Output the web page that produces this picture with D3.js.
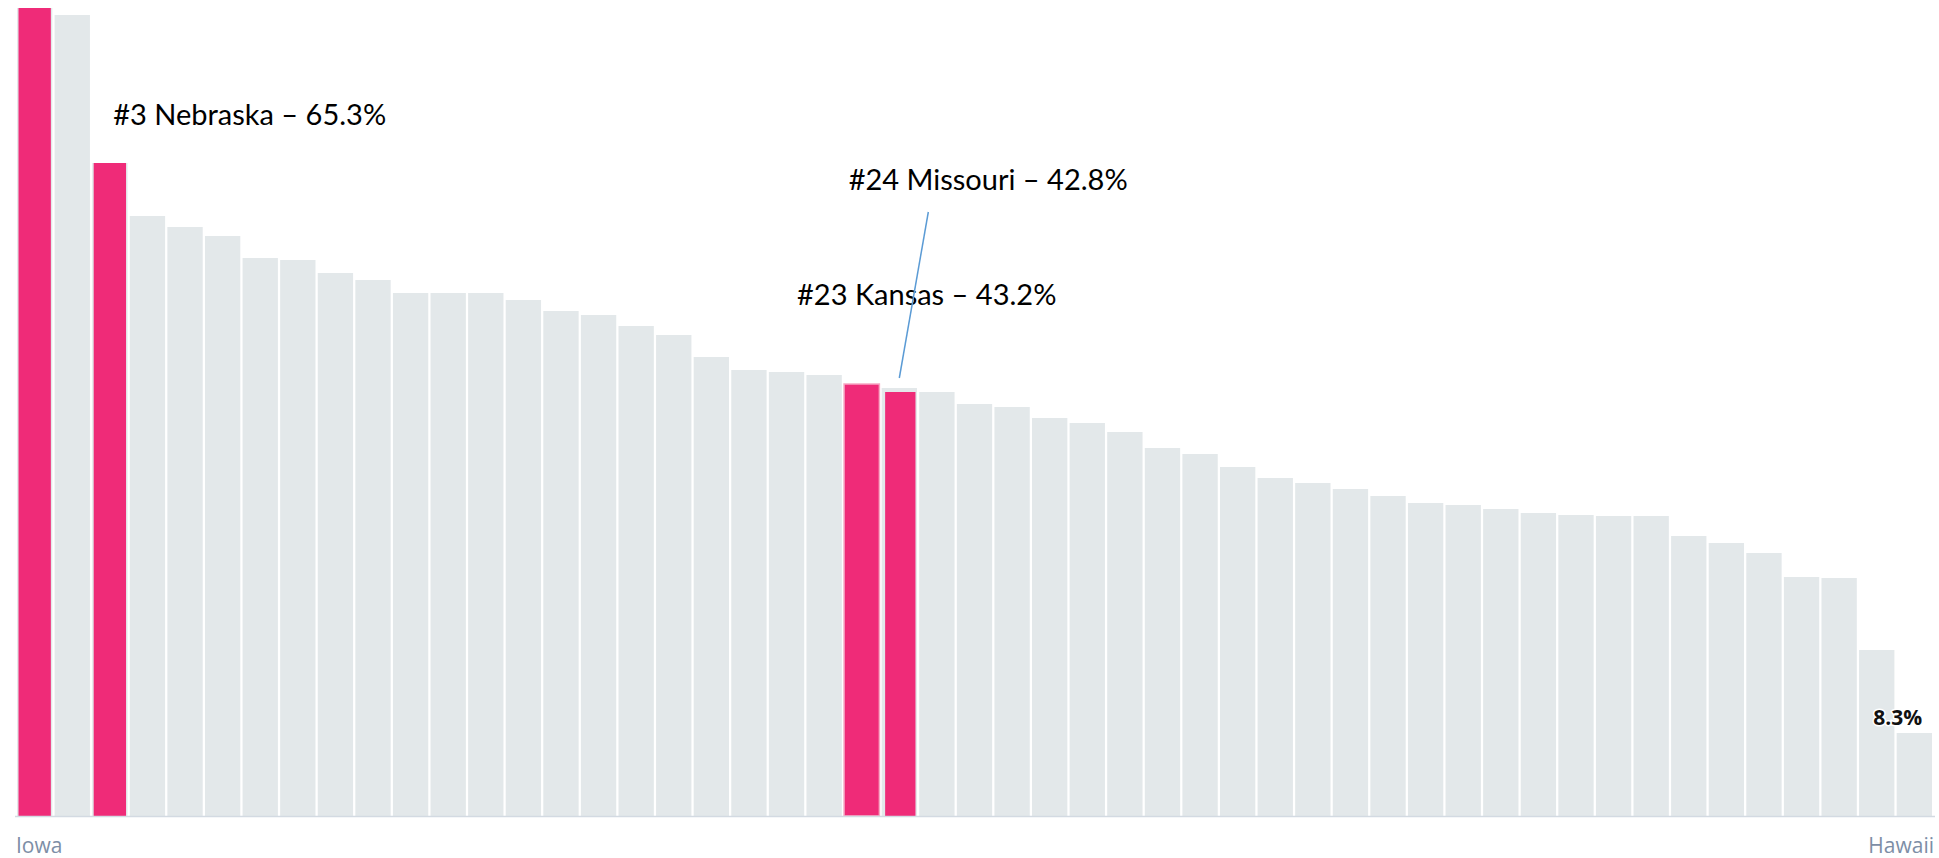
<!DOCTYPE html>
<html>
<head>
<meta charset="utf-8">
<script src="https://cdn.jsdelivr.net/npm/d3@7"></script>
<style>
    html, body {
        margin: 0;
        padding: 0;
        background: #fff;
    }
</style>
</head>
<body>
<script>
// rank of every state, 1 = highest share
var ranks = d3.range(1, 52);

// share (%) for each rank
var shares = [
    80.8, 80.1, 65.3, 60.0, 58.9, 58.0, 55.8, 55.6, 54.3, 53.6,
    52.3, 52.3, 52.3, 51.6, 50.5, 50.1, 49.0, 48.1, 45.9, 44.6,
    44.4, 44.1, 43.2, 42.8, 42.4, 41.2, 40.9, 39.8, 39.3, 38.4,
    36.8, 36.2, 34.9, 33.8, 33.3, 32.7, 32.0, 31.3, 31.1, 30.7,
    30.3, 30.1, 30.0, 30.0, 28.0, 27.3, 26.3, 23.9, 23.8, 16.6,
    8.3
];

// highlighted states
var highlighted = [1, 3, 23, 24];

// axis end labels
var firstLabel = "Iowa";
var lastLabel = "Hawaii";

// callouts
var calloutRanks = [3, 24, 23];
var calloutNames = ["Nebraska", "Missouri", "Kansas"];

var width = 1939;
var height = 858;

var svg = d3.select("body")
    .append("svg")
    .attr("width", width)
    .attr("height", height);

var x = d3.scaleBand()
    .domain(ranks)
    .range([17, 1932])
    .paddingInner(0.06)
    .paddingOuter(0);

var y = d3.scaleLinear()
    .domain([0, d3.max(shares)])
    .range([816, 8]);

var data = ranks.map(function(r, i) {
    return { rank: r, value: shares[i] };
});

// grey bars
svg.selectAll(".bar")
    .data(data)
    .enter()
    .append("rect")
    .attr("class", "bar")
    .attr("x", function(d) { return x(d.rank); })
    .attr("y", function(d) { return y(d.value); })
    .attr("width", x.bandwidth())
    .attr("height", function(d) { return y(0) - y(d.value); })
    .attr("fill", "#e3e8ea");

// pink overlays for the highlighted states
// (missouri's overlay sits a little lower, leaving a grey cap showing)
svg.selectAll(".hi")
    .data(data.filter(function(d) { return highlighted.indexOf(d.rank) >= 0; }))
    .enter()
    .append("rect")
    .attr("class", "hi")
    .attr("x", function(d) { return x(d.rank) + (d.rank == 23 ? 0 : (d.rank == 24 ? 3.5 : 1.5)); })
    .attr("y", function(d) { return y(d.value) + (d.rank == 24 ? 4 : 0); })
    .attr("width", function(d) { return x.bandwidth() - (d.rank == 23 ? 0 : (d.rank == 24 ? 5 : 3)); })
    .attr("height", function(d) { return y(0) - y(d.value) - (d.rank == 24 ? 4 : 0); })
    .attr("fill", "#ef2b78")
    .attr("stroke", function(d) { return d.rank == 23 ? "#f7a8c4" : "none"; })
    .attr("stroke-width", 1.5);

// baseline
svg.append("line")
    .attr("x1", 15)
    .attr("x2", 1935)
    .attr("y1", y(0) + 0.5)
    .attr("y2", y(0) + 0.5)
    .attr("stroke", "#d3dae2")
    .attr("stroke-width", 1.5);

// end labels on the axis
svg.append("text")
    .attr("x", 16)
    .attr("y", 853)
    .text(firstLabel)
    .style("font-family", "'Open Sans', sans-serif")
    .style("font-size", "21px")
    .style("fill", "#7d8ea6");

svg.append("text")
    .attr("x", 1934)
    .attr("y", 853)
    .attr("text-anchor", "end")
    .text(lastLabel)
    .style("font-family", "'Open Sans', sans-serif")
    .style("font-size", "21px")
    .style("fill", "#7d8ea6");

// value label on the last bar
var last = data[data.length - 1];
svg.append("text")
    .attr("x", x(last.rank) + 1)
    .attr("y", y(last.value) - 8)
    .attr("text-anchor", "middle")
    .text(last.value + "%")
    .style("font-family", "'Open Sans', sans-serif")
    .style("font-weight", "bold")
    .style("font-size", "21px")
    .style("fill", "#111")
    .style("stroke", "#fff")
    .style("stroke-width", 3)
    .style("paint-order", "stroke");

// callout offsets from the top-left of each bar
var calloutOffset = {
    3: { dx: 21, dy: -38 },
    24: { dx: -33, dy: -198 },
    23: { dx: -47, dy: -79 }
};

calloutRanks.forEach(function(r, i) {
    var d = data[r - 1];
    svg.append("text")
        .attr("x", x(r) + calloutOffset[r].dx)
        .attr("y", y(d.value) + calloutOffset[r].dy)
        .text("#" + r + " " + calloutNames[i] + " \u2013 " + d.value.toFixed(1) + "%")
        .style("font-family", "Lato, sans-serif")
        .style("font-size", "29px")
        .style("fill", "#000");
});

// leader line from the Missouri label down to its bar
var mo = data[23];
var lx = x(mo.rank) + x.bandwidth() / 2;
var ly = y(mo.value) - 10;
svg.append("line")
    .attr("x1", lx + 29)
    .attr("y1", ly - 166)
    .attr("x2", lx)
    .attr("y2", ly)
    .attr("stroke", "#5b9bd5")
    .attr("stroke-width", 1.5);
</script>
</body>
</html>
